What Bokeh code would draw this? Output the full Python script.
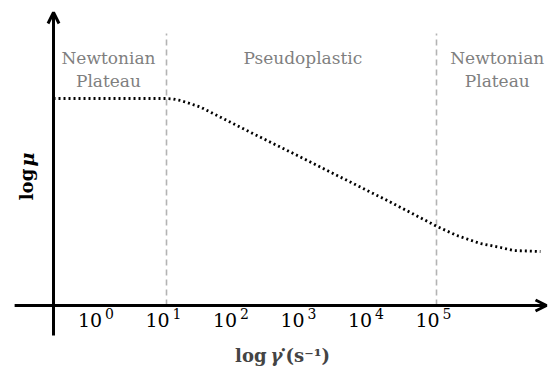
import math
from bokeh.plotting import figure
from bokeh.models import Arrow, OpenHead, Label, Range1d
from bokeh.core.properties import value
from bokeh.embed import file_html
from bokeh.resources import INLINE

# ---- data ----
log_shear = [-0.674, 1.0, 1.1, 1.21, 1.50, 2.24, 2.99, 3.58, 4.32, 5.01, 5.30, 5.65, 5.95, 6.14, 6.54]
log_visc = [2.07, 2.07, 2.065, 2.05, 1.985, 1.733, 1.483, 1.283, 1.033, 0.79, 0.70, 0.62, 0.58, 0.55, 0.54]
tick_values = [0, 1, 2, 3, 4, 5]
tick_base = ["10", "10", "10", "10", "10", "10"]
tick_exp = ["0", "1", "2", "3", "4", "5"]
region_bounds = [1, 5]
region_line1 = ["Newtonian", "Pseudoplastic", "Newtonian"]
region_line2 = ["Plateau", "", "Plateau"]
region_centers = [0.14, 3.02, 5.9]

SERIF = value("DejaVu Serif")

p = figure(width=548, height=369,
           x_range=Range1d(-1.4593, 6.6593), y_range=Range1d(-0.64, 3.05),
           x_axis_type=None, y_axis_type=None,
           output_backend="svg", toolbar_location=None, min_border=0)
p.grid.visible = False
p.outline_line_color = None

# dashed region boundaries
for xb in region_bounds:
    p.line([xb, xb], [0, 2.72], line_color="#b3b3b3", line_width=1.6, line_dash="6 4")

# dotted viscosity curve
p.line(log_shear, log_visc, line_color="black", line_width=2.8, line_dash="2 3")

# axes with arrows
p.add_layout(Arrow(end=OpenHead(size=11, line_width=3, line_color="black"),
                   x_start=-1.25, y_start=0, x_end=6.63, y_end=0,
                   line_width=3, line_color="black"))
p.add_layout(Arrow(end=OpenHead(size=11, line_width=3, line_color="black"),
                   x_start=-0.674, y_start=-0.30, x_end=-0.674, y_end=2.93,
                   line_width=3, line_color="black"))

# tick labels
p.text(x=tick_values, y=[-0.14] * 6, text=tick_base, x_offset=-21,
       text_align="left", text_baseline="middle", text_font=SERIF,
       text_font_size="19px", text_color="black")
p.text(x=tick_values, y=[-0.14] * 6, text=tick_exp, x_offset=6, y_offset=-6,
       text_align="left", text_baseline="middle", text_font=SERIF,
       text_font_size="14px", text_color="black")

# region labels
p.text(x=region_centers, y=[2.48] * 3, text=region_line1, text_align="center",
       text_baseline="middle", text_font=SERIF, text_font_size="17px",
       text_color="#7f7f7f")
p.text(x=region_centers, y=[2.25] * 3, text=region_line2, text_align="center",
       text_baseline="middle", text_font=SERIF, text_font_size="17px",
       text_color="#7f7f7f")

# axis titles
p.add_layout(Label(x=-1.074, y=1.21, text="log", angle=math.pi / 2,
                   text_align="center", text_baseline="middle",
                   text_font="DejaVu Serif", text_font_style="bold",
                   text_font_size="18px", text_color="black"))
p.add_layout(Label(x=-1.074, y=1.46, text="μ", angle=math.pi / 2,
                   text_align="center", text_baseline="middle",
                   text_font="DejaVu Serif", text_font_style="bold italic",
                   text_font_size="19px", text_color="black"))
xa, ya = 2.763, -0.50
p.add_layout(Label(x=xa, y=ya, text="log", x_offset=-19, text_align="right",
                   text_baseline="middle", text_font="DejaVu Serif",
                   text_font_style="bold", text_font_size="18px"))
p.add_layout(Label(x=xa, y=ya, text="γ", x_offset=-15, text_align="left",
                   text_baseline="middle", text_font="DejaVu Serif",
                   text_font_style="bold italic", text_font_size="18px"))
p.add_layout(Label(x=xa, y=ya, text="•", x_offset=-5, y_offset=6, text_align="left",
                   text_baseline="middle", text_font="DejaVu Serif",
                   text_font_style="bold", text_font_size="9px"))
p.add_layout(Label(x=xa, y=ya, text="(s⁻¹)", x_offset=0, text_align="left",
                   text_baseline="middle", text_font="DejaVu Serif",
                   text_font_style="bold", text_font_size="18px"))

open("out.html", "w").write(file_html(p, INLINE))
